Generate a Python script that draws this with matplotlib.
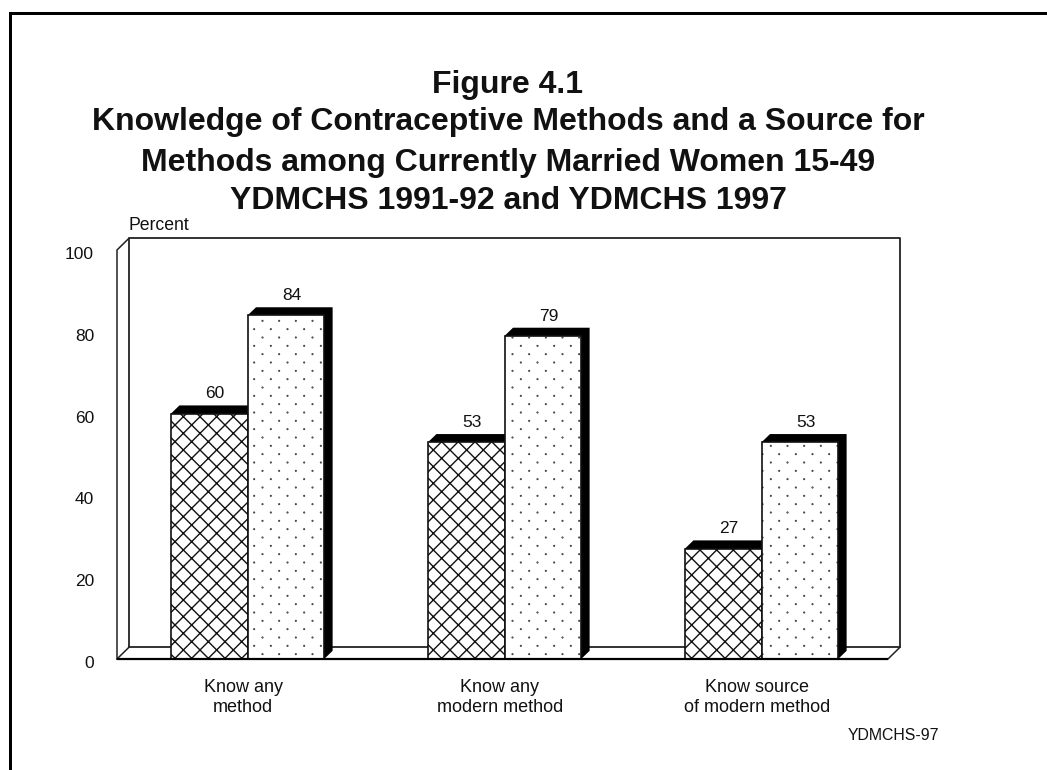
#!/usr/bin/env python3
import numpy as np
import matplotlib
matplotlib.use("Agg")
import matplotlib.pyplot as plt
import matplotlib.hatch as mhatch
from matplotlib.lines import Line2D
from matplotlib.path import Path
from matplotlib.transforms import ScaledTranslation

categories = ["Know any\nmethod", "Know any\nmodern method", "Know source\nof modern method"]
survey_1991 = [60, 53, 27]
survey_1997 = [84, 79, 53]
y_ticks = [0, 20, 40, 60, 80, 100]
title_lines = ["Figure 4.1",
               "Knowledge of Contraceptive Methods and a Source for",
               "Methods among Currently Married Women 15-49",
               "YDMCHS 1991-92 and YDMCHS 1997"]

W, H = 1047, 770
BAR_W = 0.298
BAR_SHIFT = 0.008
WALL_DX, WALL_DY = 0.047, 2.9   # depth of the back wall
BAR_DX, BAR_DY = 0.033, 2.0     # depth of the bars


class SparseDots(mhatch.HatchPatternBase):
    # the stock '.' hatch is far too heavy, this is the tiny staggered dot screen
    def __init__(self, hatch, density):
        self.rows = hatch.count('.') * density * 2
        self.cols = self.rows // 2
        self.circle = Path.unit_circle()
        self.num_vertices = self.rows * self.cols * len(self.circle.vertices)

    def set_vertices_and_codes(self, vertices, codes):
        n = len(self.circle.vertices)
        cursor = 0
        for row in range(self.rows):
            for col in range(self.cols):
                shift = 0.25 if row % 2 == 0 else 0.75
                centre = np.array([(col + shift) / self.cols, (row + 0.5) / self.rows])
                vertices[cursor:cursor + n] = self.circle.vertices * 0.003 + centre
                codes[cursor:cursor + n] = self.circle.codes
                cursor += n


mhatch._hatch_types[mhatch._hatch_types.index(mhatch.SmallFilledCircles)] = SparseDots

plt.rcParams['font.family'] = ['Liberation Sans', 'DejaVu Sans']
plt.rcParams['hatch.linewidth'] = 1.0

fig = plt.figure(figsize=(W / 100, H / 100), dpi=100)
ax = fig.add_axes([117 / W, 1 - 659 / H, 771 / W, 409 / H])
ax.set_xlim(-0.5, 2.5)
ax.set_ylim(0, 100)
for side in ax.spines.values():
    side.set_visible(False)
ax.set_xticks(range(3), labels=categories, fontsize=13, linespacing=1.21)
ax.set_yticks(y_ticks)
ax.tick_params(axis='both', length=0, colors='#111111')
ax.tick_params(axis='x', labelsize=13, pad=14.5)
ax.tick_params(axis='y', labelsize=12.5, pad=16.5)

# labels sit a few pixels off their ticks in the original
for lab in ax.get_xticklabels():
    lab.set_transform(lab.get_transform() + ScaledTranslation(-2.5 / 100, 0, fig.dpi_scale_trans))
for lab in ax.get_yticklabels():
    lab.set_transform(lab.get_transform() + ScaledTranslation(0, -3 / 100, fig.dpi_scale_trans))

# the box the bars stand in
x0, x1 = ax.get_xlim()
dx, dy = WALL_DX, WALL_DY
ax.plot([x0 + dx, x0 + dx, x1 + dx, x1 + dx, x0 + dx],
        [dy, 100 + dy, 100 + dy, dy, dy], color='#222222', lw=1.3, clip_on=False, zorder=1)
ax.plot([x0, x0, x0 + dx], [0, 100, 100 + dy], color='#222222', lw=1.1, clip_on=False, zorder=1)
ax.plot([x0, x0 + dx], [0, dy], color='#222222', lw=1.1, clip_on=False, zorder=1)
ax.plot([x1, x1 + dx], [0, dy], color='#222222', lw=1.1, clip_on=False, zorder=1)
ax.plot([x0, x1], [0, 0], color='black', lw=1.6, clip_on=False, zorder=5, solid_capstyle='butt')

positions = np.arange(len(categories)) + BAR_SHIFT
series = [(positions - BAR_W / 2, survey_1991, 'xx'), (positions + BAR_W / 2, survey_1997, '.')]
for centres, values, pattern in series:
    for c, v in zip(centres, values):
        left, right = c - BAR_W / 2, c + BAR_W / 2
        # black top and side first, the front face goes over them
        ax.fill([left, left + BAR_DX, right + BAR_DX, right + BAR_DX, right],
                [v, v + BAR_DY, v + BAR_DY, BAR_DY, 0], color='black', lw=0,
                zorder=2, clip_on=False)
        ax.text(c + BAR_DX * 0.7, v + BAR_DY + 1, str(v), ha='center', va='bottom',
                fontsize=12.5, color='#111111')
    ax.bar(centres, values, BAR_W, facecolor='white', edgecolor='#111111',
           hatch=pattern, lw=1.2, zorder=3)

fig.text(129 / W, 1 - 225 / H, "Percent", fontsize=12.7, ha='left', va='center', color='#111111')
fig.text(893 / W, 1 - 735 / H, "YDMCHS-97", fontsize=11.4, ha='center', va='center', color='#111111')

for text, y in zip(title_lines, [85, 122, 163, 201]):
    fig.text(508 / W, 1 - y / H, text, fontsize=23, fontweight='bold',
             ha='center', va='center', color='#111111')

# thick page border, only top and left reach into the crop
fig.add_artist(Line2D([9.5 / W, 9.5 / W, 1], [0, 1 - 12.5 / H, 1 - 12.5 / H],
                      color='black', lw=2.16, solid_joinstyle='miter'))

fig.savefig("out.png", dpi=100)
